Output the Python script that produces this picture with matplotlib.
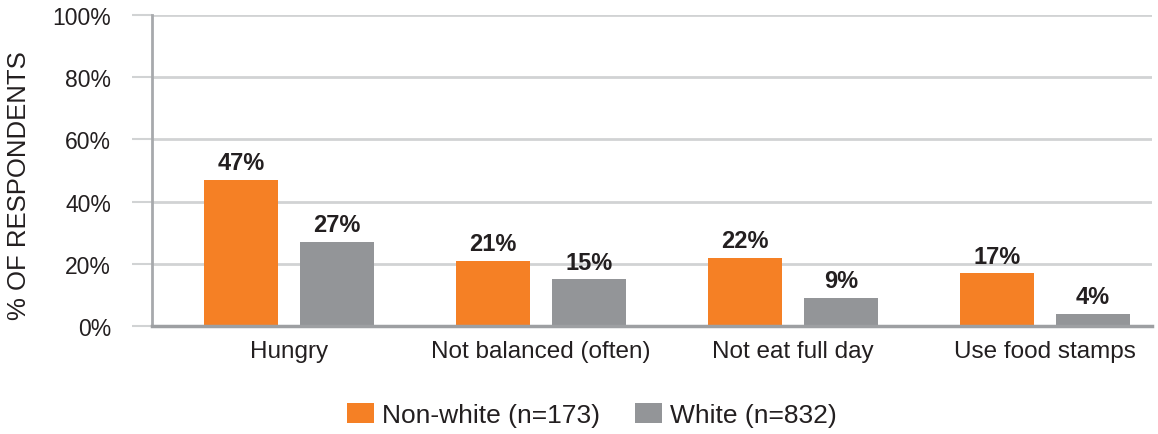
import matplotlib
matplotlib.use("Agg")
import matplotlib.pyplot as plt
from matplotlib.patches import Patch
import numpy as np

categories = ["Hungry", "Not balanced (often)", "Not eat full day", "Use food stamps"]
nonwhite = [47, 21, 22, 17]
white = [27, 15, 9, 4]
series_names = ["Non-white (n=173)", "White (n=832)"]
yticks = [0, 20, 40, 60, 80, 100]
ytick_labels = ["0%", "20%", "40%", "60%", "80%", "100%"]

ORANGE = "#f58025"
GRAY = "#939598"
TEXT = "#231f20"
GRID = "#d1d3d4"

plt.rcParams['font.family'] = ['Liberation Sans', 'DejaVu Sans']

W, H = 1158, 435
fig = plt.figure(figsize=(W / 100, H / 100), dpi=100)
ax = fig.add_axes([152 / W, (H - 327) / H, (1152 - 152) / W, (327 - 16) / H])

x = np.arange(len(categories))
bw = 74 / 252
off = 48 / 252
b1 = ax.bar(x - off, nonwhite, bw, color=ORANGE, zorder=3)
b2 = ax.bar(x + off, white, bw, color=GRAY, zorder=3)

for bars, vals in ((b1, nonwhite), (b2, white)):
    for r, v in zip(bars, vals):
        ax.annotate(f"{v}%", (r.get_x() + r.get_width() / 2, v), xytext=(0, 4),
                    textcoords="offset points", ha="center", va="bottom",
                    fontsize=17, fontweight="bold", color=TEXT)

ax.set_xlim(-0.544, 3.425)
ax.set_ylim(0, 100)
ax.set_yticks(yticks)
ax.set_yticklabels(ytick_labels)
ax.set_xticks(x)
ax.set_xticklabels(categories)
ax.yaxis.grid(True, color=GRID, linewidth=2, zorder=0)
ax.set_axisbelow(True)

ax.tick_params(axis="y", length=14.4, width=1.5, color=GRID, pad=15, labelsize=16.5, labelcolor=TEXT)
ax.tick_params(axis="x", length=0, pad=10, labelsize=17.5, labelcolor=TEXT)

for s in ("top", "right"):
    ax.spines[s].set_visible(False)
ax.spines["left"].set_color("#a7a9ac")
ax.spines["left"].set_linewidth(2)
ax.spines["bottom"].set_color("#9d9fa2")
ax.spines["bottom"].set_linewidth(2.5)
ax.spines["bottom"].set_zorder(4)

fig.text(19 / W, (H - 186) / H, "% OF RESPONDENTS", rotation=90,
         ha="center", va="center", fontsize=18.5, color=TEXT)

handles = [Patch(facecolor=ORANGE, edgecolor="none"), Patch(facecolor=GRAY, edgecolor="none")]
fig.legend(handles, series_names, loc="center", bbox_to_anchor=(592 / W, (H - 416) / H),
           ncol=2, frameon=False, fontsize=19, handlelength=1.02, handleheight=0.83,
           handletextpad=0.3, columnspacing=1.33, labelcolor=TEXT,
           borderpad=0, borderaxespad=0)

fig.savefig("out.png", dpi=100)
